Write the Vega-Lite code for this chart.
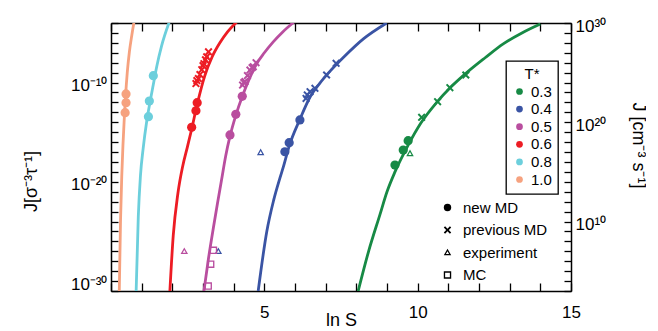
{
  "$schema": "https://vega.github.io/schema/vega-lite/v6.json",
  "width": 460,
  "height": 268,
  "autosize": {"type": "pad"},
  "padding": {"left": 22, "top": 17, "right": 0, "bottom": 0},
  "config": {
    "font": "Liberation Sans",
    "view": {"stroke": null},
    "axis": {"grid": false, "labelColor": "black", "titleColor": "black", "labelFontSize": 17, "titleFontSize": 18, "titleFontWeight": "normal", "labelFlush": false, "labelOverlap": false},
    "legend": {"labelFontSize": 15, "labelColor": "black", "titleFontSize": 15, "titleFontWeight": "normal", "titleColor": "black"}
  },
  "datasets": {
    "curves": [
      {"T": "1.0", "lnS": 0.27, "logJ": -31}, {"T": "1.0", "lnS": 0.31, "logJ": -24}, {"T": "1.0", "lnS": 0.35, "logJ": -19.5}, {"T": "1.0", "lnS": 0.39, "logJ": -16.3}, {"T": "1.0", "lnS": 0.43, "logJ": -13.8}, {"T": "1.0", "lnS": 0.47, "logJ": -11.6}, {"T": "1.0", "lnS": 0.53, "logJ": -9.0}, {"T": "1.0", "lnS": 0.60, "logJ": -6.9}, {"T": "1.0", "lnS": 0.68, "logJ": -5.2}, {"T": "1.0", "lnS": 0.75, "logJ": -3.9},
      {"T": "0.8", "lnS": 0.82, "logJ": -31}, {"T": "0.8", "lnS": 0.89, "logJ": -23.5}, {"T": "0.8", "lnS": 0.96, "logJ": -19.4}, {"T": "0.8", "lnS": 1.05, "logJ": -16.6}, {"T": "0.8", "lnS": 1.16, "logJ": -14.0}, {"T": "0.8", "lnS": 1.27, "logJ": -12.0}, {"T": "0.8", "lnS": 1.38, "logJ": -10.2}, {"T": "0.8", "lnS": 1.49, "logJ": -8.4}, {"T": "0.8", "lnS": 1.65, "logJ": -6.3}, {"T": "0.8", "lnS": 1.9, "logJ": -3.9},
      {"T": "0.6", "lnS": 1.92, "logJ": -31}, {"T": "0.6", "lnS": 2.03, "logJ": -25.4}, {"T": "0.6", "lnS": 2.18, "logJ": -21.2}, {"T": "0.6", "lnS": 2.34, "logJ": -18.4}, {"T": "0.6", "lnS": 2.49, "logJ": -16.5}, {"T": "0.6", "lnS": 2.63, "logJ": -14.7}, {"T": "0.6", "lnS": 2.81, "logJ": -12.2}, {"T": "0.6", "lnS": 3.06, "logJ": -9.3}, {"T": "0.6", "lnS": 3.3, "logJ": -7.4}, {"T": "0.6", "lnS": 3.55, "logJ": -6.0}, {"T": "0.6", "lnS": 3.8, "logJ": -4.9}, {"T": "0.6", "lnS": 4.1, "logJ": -3.9},
      {"T": "0.5", "lnS": 3.03, "logJ": -31}, {"T": "0.5", "lnS": 3.18, "logJ": -27.7}, {"T": "0.5", "lnS": 3.34, "logJ": -24.6}, {"T": "0.5", "lnS": 3.47, "logJ": -22.2}, {"T": "0.5", "lnS": 3.6, "logJ": -19.9}, {"T": "0.5", "lnS": 3.74, "logJ": -17.4}, {"T": "0.5", "lnS": 3.88, "logJ": -15.4}, {"T": "0.5", "lnS": 4.07, "logJ": -13.3}, {"T": "0.5", "lnS": 4.28, "logJ": -11.4}, {"T": "0.5", "lnS": 4.5, "logJ": -9.7}, {"T": "0.5", "lnS": 4.75, "logJ": -8.1}, {"T": "0.5", "lnS": 5.0, "logJ": -7.0}, {"T": "0.5", "lnS": 5.29, "logJ": -5.9}, {"T": "0.5", "lnS": 5.6, "logJ": -4.9}, {"T": "0.5", "lnS": 5.97, "logJ": -3.9},
      {"T": "0.4", "lnS": 4.80, "logJ": -31}, {"T": "0.4", "lnS": 5.08, "logJ": -25.0}, {"T": "0.4", "lnS": 5.3, "logJ": -21.9}, {"T": "0.4", "lnS": 5.51, "logJ": -19.6}, {"T": "0.4", "lnS": 5.62, "logJ": -18.5}, {"T": "0.4", "lnS": 5.81, "logJ": -16.4}, {"T": "0.4", "lnS": 6.16, "logJ": -13.7}, {"T": "0.4", "lnS": 6.5, "logJ": -11.4}, {"T": "0.4", "lnS": 6.8, "logJ": -10.1}, {"T": "0.4", "lnS": 7.1, "logJ": -9.0}, {"T": "0.4", "lnS": 7.6, "logJ": -7.4}, {"T": "0.4", "lnS": 8.23, "logJ": -5.6}, {"T": "0.4", "lnS": 8.99, "logJ": -4.0},
      {"T": "0.3", "lnS": 8.06, "logJ": -31}, {"T": "0.3", "lnS": 8.4, "logJ": -27}, {"T": "0.3", "lnS": 8.77, "logJ": -23.3}, {"T": "0.3", "lnS": 9.0, "logJ": -21}, {"T": "0.3", "lnS": 9.26, "logJ": -19.0}, {"T": "0.3", "lnS": 9.69, "logJ": -16.3}, {"T": "0.3", "lnS": 10.1, "logJ": -14.1}, {"T": "0.3", "lnS": 10.62, "logJ": -12.0}, {"T": "0.3", "lnS": 11.1, "logJ": -10.4}, {"T": "0.3", "lnS": 11.6, "logJ": -9.0}, {"T": "0.3", "lnS": 12.2, "logJ": -7.5}, {"T": "0.3", "lnS": 12.79, "logJ": -6.1}, {"T": "0.3", "lnS": 13.4, "logJ": -5.0}, {"T": "0.3", "lnS": 14.0, "logJ": -4.1}
    ],
    "pts": [
      {"method": "new MD", "T": "0.3", "lnS": 9.26, "logJ": -18.31}, {"method": "new MD", "T": "0.3", "lnS": 9.53, "logJ": -16.8}, {"method": "new MD", "T": "0.3", "lnS": 9.69, "logJ": -15.86},
      {"method": "new MD", "T": "0.4", "lnS": 5.67, "logJ": -16.97}, {"method": "new MD", "T": "0.4", "lnS": 5.81, "logJ": -16.06}, {"method": "new MD", "T": "0.4", "lnS": 6.16, "logJ": -13.77},
      {"method": "new MD", "T": "0.5", "lnS": 3.88, "logJ": -15.28}, {"method": "new MD", "T": "0.5", "lnS": 4.07, "logJ": -13.2}, {"method": "new MD", "T": "0.5", "lnS": 4.28, "logJ": -11.39},
      {"method": "new MD", "T": "0.6", "lnS": 2.63, "logJ": -14.51}, {"method": "new MD", "T": "0.6", "lnS": 2.77, "logJ": -12.84}, {"method": "new MD", "T": "0.6", "lnS": 2.81, "logJ": -12.03},
      {"method": "new MD", "T": "0.8", "lnS": 1.22, "logJ": -13.44}, {"method": "new MD", "T": "0.8", "lnS": 1.25, "logJ": -11.86}, {"method": "new MD", "T": "0.8", "lnS": 1.38, "logJ": -9.31},
      {"method": "new MD", "T": "1.0", "lnS": 0.46, "logJ": -13.04}, {"method": "new MD", "T": "1.0", "lnS": 0.49, "logJ": -12.03}, {"method": "new MD", "T": "1.0", "lnS": 0.49, "logJ": -11.15},
      {"method": "previous MD", "T": "0.3", "lnS": 10.13, "logJ": -13.5}, {"method": "previous MD", "T": "0.3", "lnS": 10.65, "logJ": -11.93}, {"method": "previous MD", "T": "0.3", "lnS": 11.05, "logJ": -10.52}, {"method": "previous MD", "T": "0.3", "lnS": 11.57, "logJ": -9.24},
      {"method": "previous MD", "T": "0.4", "lnS": 6.36, "logJ": -11.6}, {"method": "previous MD", "T": "0.4", "lnS": 6.40, "logJ": -11.25}, {"method": "previous MD", "T": "0.4", "lnS": 6.49, "logJ": -10.92}, {"method": "previous MD", "T": "0.4", "lnS": 6.65, "logJ": -10.58}, {"method": "previous MD", "T": "0.4", "lnS": 7.03, "logJ": -9.24}, {"method": "previous MD", "T": "0.4", "lnS": 7.34, "logJ": -8.06},
      {"method": "previous MD", "T": "0.5", "lnS": 4.29, "logJ": -10.25}, {"method": "previous MD", "T": "0.5", "lnS": 4.33, "logJ": -10.0}, {"method": "previous MD", "T": "0.5", "lnS": 4.37, "logJ": -9.9}, {"method": "previous MD", "T": "0.5", "lnS": 4.45, "logJ": -9.3}, {"method": "previous MD", "T": "0.5", "lnS": 4.53, "logJ": -8.74}, {"method": "previous MD", "T": "0.5", "lnS": 4.60, "logJ": -8.5}, {"method": "previous MD", "T": "0.5", "lnS": 4.64, "logJ": -8.4}, {"method": "previous MD", "T": "0.5", "lnS": 4.73, "logJ": -8.0},
      {"method": "previous MD", "T": "0.6", "lnS": 2.77, "logJ": -10.1}, {"method": "previous MD", "T": "0.6", "lnS": 2.80, "logJ": -9.8}, {"method": "previous MD", "T": "0.6", "lnS": 2.85, "logJ": -9.6}, {"method": "previous MD", "T": "0.6", "lnS": 2.90, "logJ": -9.2}, {"method": "previous MD", "T": "0.6", "lnS": 2.96, "logJ": -8.7}, {"method": "previous MD", "T": "0.6", "lnS": 3.00, "logJ": -8.3}, {"method": "previous MD", "T": "0.6", "lnS": 3.03, "logJ": -8.1}, {"method": "previous MD", "T": "0.6", "lnS": 3.08, "logJ": -7.7}, {"method": "previous MD", "T": "0.6", "lnS": 3.12, "logJ": -7.4}, {"method": "previous MD", "T": "0.6", "lnS": 3.18, "logJ": -6.9},
      {"method": "experiment", "T": "0.5", "lnS": 2.39, "logJ": -27.0}, {"method": "experiment", "T": "0.4", "lnS": 3.50, "logJ": -27.0}, {"method": "experiment", "T": "0.4", "lnS": 4.88, "logJ": -17.03}, {"method": "experiment", "T": "0.3", "lnS": 9.75, "logJ": -17.13},
      {"method": "MC", "T": "0.5", "lnS": 3.34, "logJ": -26.9}, {"method": "MC", "T": "0.5", "lnS": 3.25, "logJ": -28.3}, {"method": "MC", "T": "0.5", "lnS": 3.17, "logJ": -30.5}
    ]
  },
  "layer": [
    {
      "data": {"name": "curves"},
      "mark": {"type": "line", "interpolate": "monotone", "strokeWidth": 2.8, "clip": true},
      "encoding": {
        "x": {"field": "lnS", "type": "quantitative", "scale": {"domain": [0, 15], "nice": false, "zero": false},
          "axis": {"orient": "bottom", "domain": true, "domainColor": "black", "domainWidth": 1.5, "ticks": true, "tickColor": "black", "tickWidth": 1.3, "tickSize": -8, "values": [0,1,2,3,4,5,6,7,8,9,10,11,12,13,14,15], "labelPadding": 21,
            "labelExpr": "(datum.value == 5 || datum.value == 10 || datum.value == 15) ? datum.label : ''",
            "title": "ln S", "titleY": 29, "titleBaseline": "middle"}},
        "y": {"field": "logJ", "type": "quantitative", "scale": {"domain": [-31, -4], "nice": false, "zero": false},
          "axis": {"orient": "left", "domain": true, "domainColor": "black", "domainWidth": 1.5, "ticks": true, "tickColor": "black", "tickWidth": 1.3, "tickSize": -7, "values": [-31,-30,-29,-28,-27,-26,-25,-24,-23,-22,-21,-20,-19,-18,-17,-16,-15,-14,-13,-12,-11,-10,-9,-8,-7,-6,-5,-4], "labelPadding": 11, "labelOffset": 3,
            "labelExpr": "datum.value == -10 ? '10⁻¹⁰' : datum.value == -20 ? '10⁻²⁰' : datum.value == -30 ? '10⁻³⁰' : ''",
            "title": "J[σ⁻³τ⁻¹]", "titleX": -80, "titleY": 158, "titleBaseline": "middle", "titleAngle": -90}},
        "color": {"field": "T", "type": "nominal",
          "scale": {"domain": ["0.3", "0.4", "0.5", "0.6", "0.8", "1.0"], "range": ["#178a45", "#3a54a4", "#b94e9f", "#ed1c24", "#6ccfdc", "#f6a27f"]},
          "legend": {"orient": "none", "legendX": 395, "legendY": 38, "direction": "vertical", "title": "T*", "titleAnchor": "middle", "titleAlign": "center", "titlePadding": 2,
            "symbolType": "circle", "symbolSize": 45, "strokeColor": "black", "padding": 6, "rowPadding": 1.6, "labelOffset": 4,
            "encode": {"symbols": {"update": {"fill": {"scale": "color", "field": "value"}, "stroke": {"value": "transparent"}, "strokeWidth": {"value": 0}, "opacity": {"value": 1}}}, "legend": {"update": {"strokeWidth": {"value": 1.3}}}}}}
      }
    },
    {
      "data": {"name": "pts"},
      "transform": [{"filter": "datum.method == 'previous MD'"}],
      "mark": {"type": "point", "filled": true, "strokeWidth": 0, "size": 64, "opacity": 1},
      "encoding": {
        "x": {"field": "lnS", "type": "quantitative", "scale": {"domain": [0, 15], "nice": false, "zero": false}, "axis": null},
        "y": {"field": "logJ", "type": "quantitative", "scale": {"domain": [-31, -4], "nice": false, "zero": false}, "axis": null},
        "color": {"field": "T", "type": "nominal"},
        "shape": {"field": "method", "type": "nominal",
          "scale": {"domain": ["new MD", "previous MD", "experiment", "MC"], "range": ["circle", "M-1,-0.65L-0.65,-1L0,-0.35L0.65,-1L1,-0.65L0.35,0L1,0.65L0.65,1L0,0.35L-0.65,1L-1,0.65L-0.35,0Z", "M0,-1L1,0.75L-1,0.75ZM0,-0.34L-0.43,0.42L0.43,0.42Z", "M-1,-1L1,-1L1,1L-1,1ZM-0.64,-0.64L-0.64,0.64L0.64,0.64L0.64,-0.64Z"]},
          "legend": {"orient": "none", "legendX": 329, "legendY": 177, "direction": "vertical", "title": null, "symbolSize": 55, "padding": 0, "rowPadding": 6.5, "labelOffset": 8,
            "symbolFillColor": "black", "symbolStrokeWidth": 0,
            "encode": {"symbols": {"update": {"fill": {"value": "black"}, "stroke": {"value": "transparent"}, "strokeWidth": {"value": 0}, "opacity": {"value": 1}}}}}}
      }
    },
    {
      "data": {"name": "pts"},
      "transform": [{"filter": "datum.method == 'experiment' || datum.method == 'MC'"}],
      "mark": {"type": "point", "filled": true, "strokeWidth": 0, "size": 56, "opacity": 1},
      "encoding": {
        "x": {"field": "lnS", "type": "quantitative", "scale": {"domain": [0, 15], "nice": false, "zero": false}, "axis": null},
        "y": {"field": "logJ", "type": "quantitative", "scale": {"domain": [-31, -4], "nice": false, "zero": false}, "axis": null},
        "color": {"field": "T", "type": "nominal"},
        "shape": {"field": "method", "type": "nominal"}
      }
    },
    {
      "data": {"name": "pts"},
      "transform": [{"filter": "datum.method == 'new MD'"}],
      "mark": {"type": "point", "filled": true, "strokeWidth": 0, "size": 85, "opacity": 1},
      "encoding": {
        "x": {"field": "lnS", "type": "quantitative", "scale": {"domain": [0, 15], "nice": false, "zero": false},
          "axis": {"orient": "top", "domain": true, "domainColor": "black", "domainWidth": 1.5, "ticks": true, "tickColor": "black", "tickWidth": 1.3, "tickSize": -8, "values": [0,1,2,3,4,5,6,7,8,9,10,11,12,13,14,15], "labels": false, "title": null}},
        "y": {"field": "logJ", "type": "quantitative", "scale": {"domain": [-31, -4], "nice": false, "zero": false},
          "axis": {"orient": "right", "domain": true, "domainColor": "black", "domainWidth": 1.5, "ticks": true, "tickColor": "black", "tickWidth": 1.3, "tickSize": -7, "values": [-31,-30,-29,-28,-27,-26,-25,-24,-23,-22,-21,-20,-19,-18,-17,-16,-15,-14,-13,-12,-11,-10,-9,-8,-7,-6,-5,-4], "labelPadding": 11, "labelOffset": 3,
            "labelExpr": "datum.value == -4 ? '10³⁰' : datum.value == -14 ? '10²⁰' : datum.value == -24 ? '10¹⁰' : ''",
            "title": "J [cm⁻³ s⁻¹]", "titleX": 66, "titleY": 122, "titleBaseline": "middle", "titleAngle": 90}},
        "color": {"field": "T", "type": "nominal"},
        "shape": {"field": "method", "type": "nominal"}
      }
    }
  ],
  "resolve": {"scale": {"x": "independent", "y": "independent"}}
}
